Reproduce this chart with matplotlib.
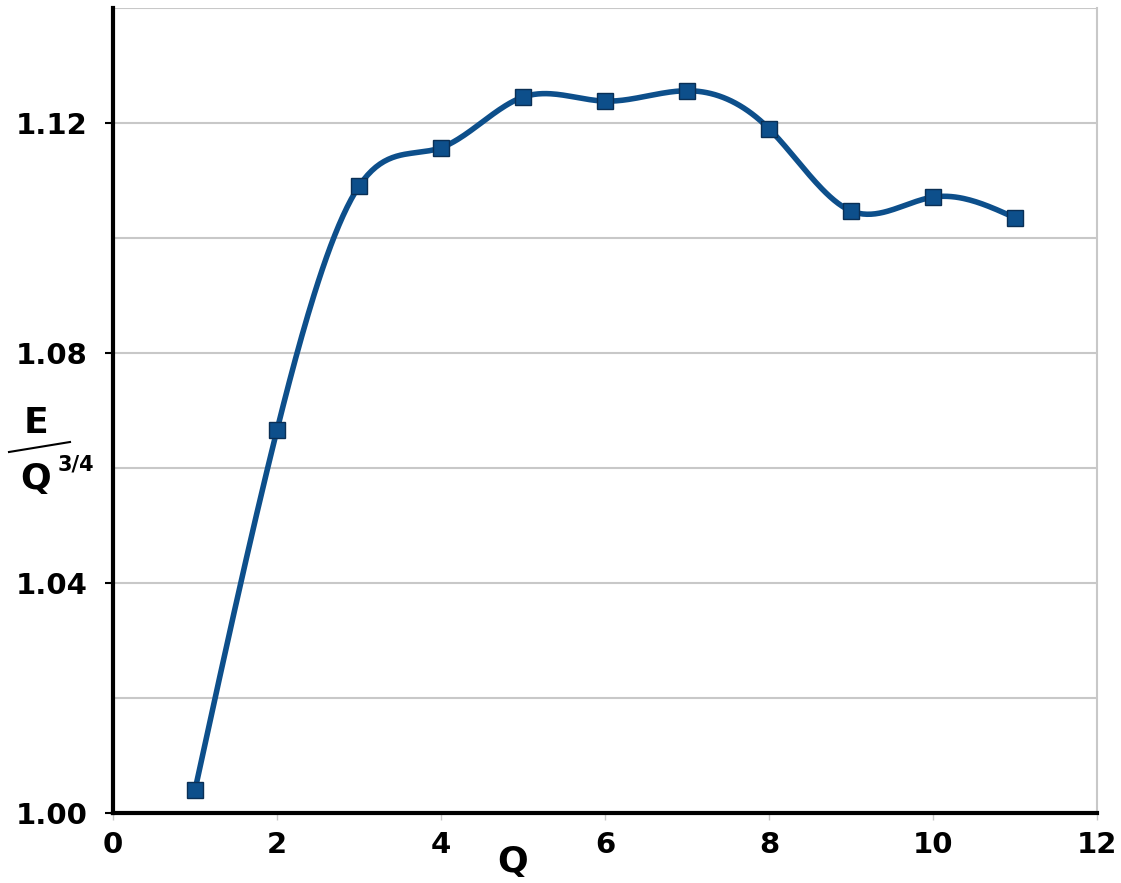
import numpy as np
import matplotlib
matplotlib.use("Agg")
import matplotlib.pyplot as plt

q_values = [1, 2, 3, 4, 5, 6, 7, 8, 9, 10, 11]
e_ratio = [1.004, 1.0666, 1.109, 1.1157, 1.1245, 1.1238, 1.1256, 1.119, 1.1047, 1.1071, 1.1035]
x_ticks = [0, 2, 4, 6, 8, 10, 12]
y_ticks = [1.00, 1.04, 1.08, 1.12]
y_ticklabels = ["1.00", "1.04", "1.08", "1.12"]


def natural_spline(x, y, xs):
    x = np.asarray(x, float); y = np.asarray(y, float)
    n = len(x)
    h = np.diff(x)
    A = np.zeros((n, n)); b = np.zeros(n)
    A[0, 0] = 1; A[-1, -1] = 1
    for i in range(1, n - 1):
        A[i, i - 1] = h[i - 1]
        A[i, i] = 2 * (h[i - 1] + h[i])
        A[i, i + 1] = h[i]
        b[i] = 6 * ((y[i + 1] - y[i]) / h[i] - (y[i] - y[i - 1]) / h[i - 1])
    M = np.linalg.solve(A, b)
    out = np.empty_like(xs)
    for k, xv in enumerate(xs):
        i = min(max(np.searchsorted(x, xv) - 1, 0), n - 2)
        t1 = x[i + 1] - xv; t0 = xv - x[i]
        out[k] = (M[i] * t1**3 / (6 * h[i]) + M[i + 1] * t0**3 / (6 * h[i])
                  + (y[i] / h[i] - M[i] * h[i] / 6) * t1
                  + (y[i + 1] / h[i] - M[i + 1] * h[i] / 6) * t0)
    return out


fig = plt.figure(figsize=(11.21, 8.83), dpi=100)
ax = fig.add_axes([0.1008, 0.0793, 0.8778, 0.9117])

line_color = "#0d4f8b"
xs = np.linspace(q_values[0], q_values[-1], 400)
ax.plot(xs, natural_spline(q_values, e_ratio, xs), color=line_color, lw=4, zorder=3)
ax.plot(q_values, e_ratio, ls="none", marker="s", ms=11, color=line_color,
        markeredgecolor="#0a2f55", markeredgewidth=1, zorder=4)

ax.set_xlim(0, 12)
ax.set_ylim(1.00, 1.14)
ax.set_xticks(x_ticks)
ax.set_yticks(y_ticks)
ax.set_yticklabels(y_ticklabels)
ax.set_yticks(np.arange(1.02, 1.141, 0.02), minor=True)
ax.grid(True, which="both", axis="y", color="#c8c8c8", lw=1.5)
ax.set_axisbelow(True)

for lab in ax.get_xticklabels() + ax.get_yticklabels():
    lab.set_fontweight("bold")
    lab.set_fontsize(21)
ax.tick_params(axis="y", which="major", length=6, width=1.5, pad=12)
ax.tick_params(axis="y", which="minor", length=0)
ax.tick_params(axis="x", length=5, width=1, color="#c8c8c8", pad=8)

ax.spines["left"].set_linewidth(3)
ax.spines["bottom"].set_linewidth(3)
ax.spines["left"].set_color("black")
ax.spines["bottom"].set_color("black")
ax.spines["top"].set_visible(False)
ax.spines["right"].set_color("#c8c8c8")
ax.spines["right"].set_linewidth(1.5)

fig.text(513 / 1121, 1 - 862 / 883, "Q", fontsize=26, fontweight="bold", ha="center", va="center")
fig.text(36 / 1121, 1 - 423 / 883, "E", fontsize=26, fontweight="bold", ha="center", va="center")
fig.add_artist(plt.Line2D([9 / 1121, 70 / 1121], [1 - 452 / 883, 1 - 442 / 883], color="black", lw=1.5))
fig.text(36 / 1121, 1 - 479 / 883, "Q", fontsize=26, fontweight="bold", ha="center", va="center")
fig.text(76 / 1121, 1 - 465 / 883, "3/4", fontsize=15, fontweight="bold", ha="center", va="center")

fig.savefig("out.png", dpi=100)
